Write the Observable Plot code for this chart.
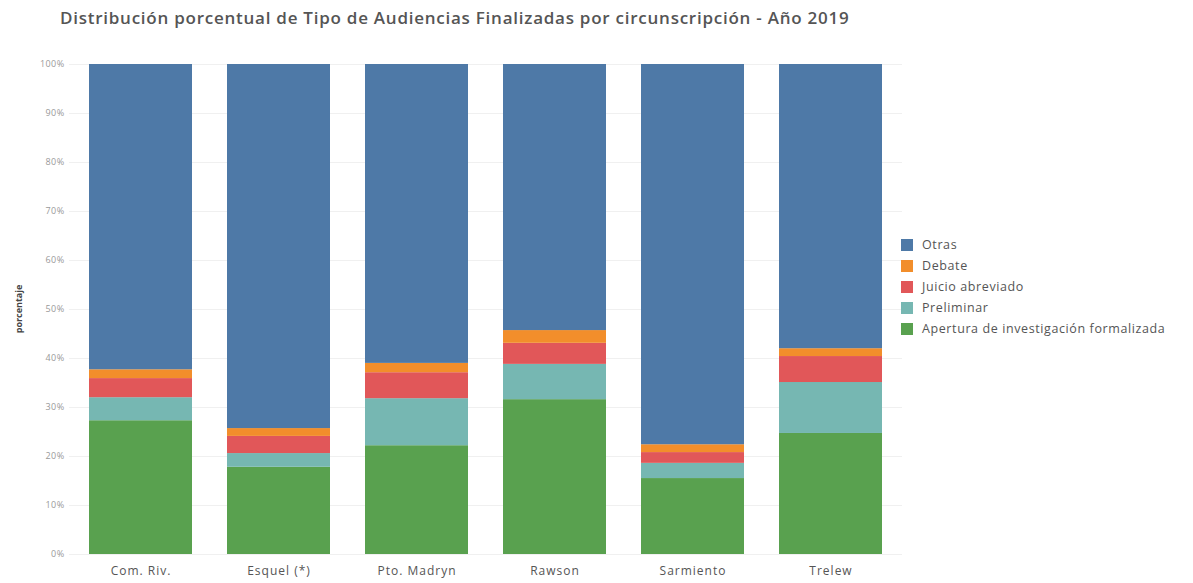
<!DOCTYPE html>
<html>
<head>
<meta charset="utf-8">
<script src="https://cdn.jsdelivr.net/npm/d3@7"></script>
<script src="https://cdn.jsdelivr.net/npm/@observablehq/plot@0.6"></script>
<style>
  body { margin: 0; background: #fff; font-family: "Open Sans", Lato, sans-serif; }
  #wrap { position: relative; width: 1193px; height: 583px; }
  #title { position: absolute; left: 60px; top: 6px; font-size: 17px; font-weight: 600; color: #555; letter-spacing: 0.75px; white-space: nowrap; }
  #chart { position: absolute; left: 0; top: 40px; }
  #ylab { position: absolute; top: 309px; left: 18px; transform: translate(-50%, -50%) rotate(-90deg); transform-origin: center; font-size: 9px; font-weight: 700; color: #444; white-space: nowrap; }
  #legend { position: absolute; left: 901px; top: 234px; font-size: 12.5px; color: #555; letter-spacing: 0.6px; }
  .item { display: flex; align-items: center; height: 21px; }
  .sw { width: 12px; height: 12px; margin-right: 9px; }
  [aria-label="x-axis tick label"] text { letter-spacing: 1px; }
  [aria-label="y-axis tick label"] text { letter-spacing: 0.4px; }
</style>
</head>
<body>
<div id="wrap">
  <div id="title">Distribución porcentual de Tipo de Audiencias Finalizadas por circunscripción - Año 2019</div>
  <div id="ylab">porcentaje</div>
  <div id="chart"></div>
  <div id="legend"></div>
</div>
<script>
const circunscripciones = ["Com. Riv.", "Esquel (*)", "Pto. Madryn", "Rawson", "Sarmiento", "Trelew"];
const tipos = ["Apertura de investigación formalizada", "Preliminar", "Juicio abreviado", "Debate", "Otras"];
const apertura  = [27.3, 17.8, 22.2, 31.6, 15.5, 24.7];
const preliminar = [4.7, 2.8, 9.6, 7.2, 3.1, 10.4];
const juicio    = [3.9, 3.5, 5.3, 4.3, 2.2, 5.3];
const debate    = [1.8, 1.6, 1.9, 2.6, 1.6, 1.6];
const otras     = [62.3, 74.3, 61.0, 54.3, 77.6, 58.0];
const yTicks = [0, 10, 20, 30, 40, 50, 60, 70, 80, 90, 100];
const colores = ["#59a14f", "#76b7b2", "#e15759", "#f28e2b", "#4e79a7"];

const series = [apertura, preliminar, juicio, debate, otras];
const data = [];
tipos.forEach((t, i) => circunscripciones.forEach((c, j) => data.push({circ: c, tipo: t, valor: series[i][j]})));

const chart = Plot.plot({
  width: 905,
  height: 543,
  marginTop: 24,
  marginBottom: 29,
  marginLeft: 69,
  marginRight: 3,
  style: { fontFamily: "'Open Sans', Lato, sans-serif", background: "transparent" },
  x: { domain: circunscripciones, paddingInner: 0.255, paddingOuter: 0.13, label: null },
  y: { domain: [0, 100], label: null },
  color: { domain: tipos, range: colores },
  marks: [
    Plot.gridY(yTicks, { stroke: "#f0f0f0", strokeOpacity: 1 }),
    Plot.barY(data, { x: "circ", y: "valor", fill: "tipo", z: "tipo", order: tipos }),
    Plot.axisY(yTicks, { tickFormat: d => d + "%", tickSize: 0, tickPadding: 5, fontSize: 9, color: "#999", label: null }),
    Plot.axisX({ tickSize: 0, tickPadding: 12, fontSize: 12, color: "#555", label: null })
  ]
});
document.getElementById("chart").appendChild(chart);

const legend = document.getElementById("legend");
[...tipos].reverse().forEach(t => {
  const it = document.createElement("div");
  it.className = "item";
  const sw = document.createElement("div");
  sw.className = "sw";
  sw.style.background = colores[tipos.indexOf(t)];
  const lb = document.createElement("span");
  lb.textContent = t;
  it.appendChild(sw); it.appendChild(lb);
  legend.appendChild(it);
});
</script>
</body>
</html>
